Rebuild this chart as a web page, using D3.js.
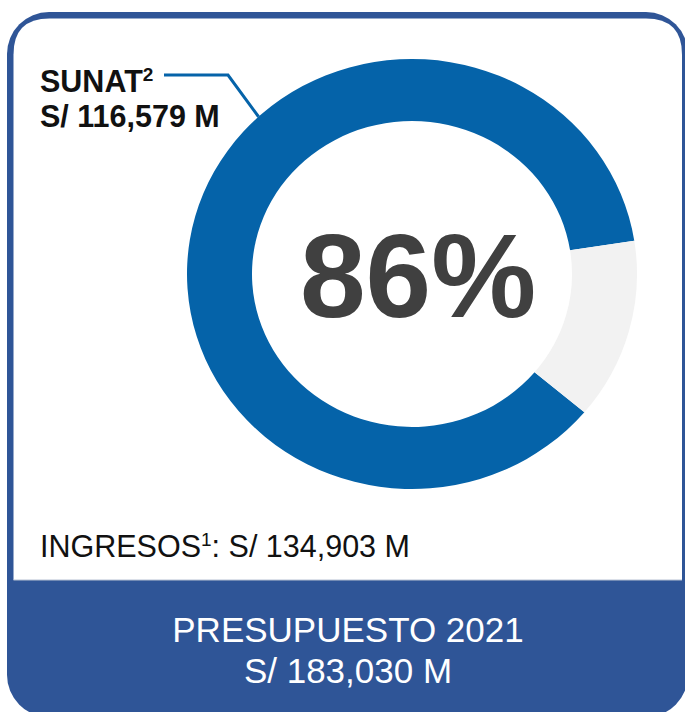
<!DOCTYPE html>
<html>
<head>
<meta charset="utf-8">
<script src="https://cdn.jsdelivr.net/npm/d3@7"></script>
<style>
  html, body { margin: 0; padding: 0; background: #fff; }
  svg { display: block; font-family: "Liberation Sans", Arial, sans-serif; }
</style>
</head>
<body>
<svg></svg>
<script>
const size = { w: 685, h: 712 };

// values
const sliceNames = ["SUNAT", "Resto"];
const sliceValues = [116579, 134903 - 116579];
const sliceColors = ["#0563a9", "#f2f2f2"];
const centerLabel = "86%";
const sunatLines = ["SUNAT", "S/ 116,579 M"];
const ingresosText = ["INGRESOS", "1", ": S/ 134,903 M"];
const footerLines = ["PRESUPUESTO 2021", "S/ 183,030 M"];

const frameColor = "#2f5597";
const svg = d3.select("svg").attr("width", size.w).attr("height", size.h);

// --------- FRAME ----------
// outer rounded box, filled with the frame colour (becomes border + bottom band)
svg.append("rect")
  .attr("x", 7).attr("y", 12)
  .attr("width", 681).attr("height", 705)
  .attr("rx", 42)
  .attr("fill", frameColor);

// white inner area, rounded only at the top
const ix0 = 13.5, iy0 = 18.5, ix1 = 682, iy1 = 580, r = 36;
svg.append("path")
  .attr("d", `M${ix0},${iy1} L${ix0},${iy0 + r} Q${ix0},${iy0} ${ix0 + r},${iy0}
              L${ix1 - r},${iy0} Q${ix1},${iy0} ${ix1},${iy0 + r} L${ix1},${iy1} Z`)
  .attr("fill", "#fff");

svg.append("line")
  .attr("x1", ix0).attr("x2", ix1)
  .attr("y1", iy1).attr("y2", iy1)
  .attr("stroke", "#b7c1d2").attr("stroke-width", 1);

// --------- DONUT ----------
const cx = 412, cy = 274;
const outerR = 225, innerR = 160;
const squash = 215 / 225; // the ring is slightly flattened vertically

const startDeg = 130;
const pie = d3.pie()
  .sort(null)
  .startAngle(startDeg * Math.PI / 180)
  .endAngle((startDeg + 360) * Math.PI / 180);

const arc = d3.arc().innerRadius(innerR).outerRadius(outerR);
const color = d3.scaleOrdinal().domain(sliceNames).range(sliceColors);

const donutG = svg.append("g")
  .attr("transform", `translate(${cx},${cy}) scale(1,${squash})`);

donutG.selectAll("path")
  .data(pie(sliceValues))
  .join("path")
  .attr("d", arc)
  .attr("fill", (d, i) => color(sliceNames[i]));

svg.append("text")
  .attr("x", 418).attr("y", 317)
  .attr("text-anchor", "middle")
  .attr("font-size", 118)
  .attr("font-weight", "bold")
  .attr("fill", "#404040")
  .text(centerLabel);

// --------- SUNAT LABEL + LEADER ----------
const sunat = svg.append("text")
  .attr("x", 40).attr("y", 92)
  .attr("font-size", 30.5)
  .attr("font-weight", "bold")
  .attr("fill", "#111");
sunat.append("tspan").text(sunatLines[0]);
sunat.append("tspan").attr("font-size", 19).attr("dy", -11).text("2");
svg.append("text")
  .attr("x", 40).attr("y", 127)
  .attr("font-size", 30.5)
  .attr("font-weight", "bold")
  .attr("fill", "#111")
  .text(sunatLines[1]);

// leader line ends on the outer edge of the blue ring
const leadAng = -43 * Math.PI / 180;
const tip = [cx + outerR * Math.sin(leadAng), cy - outerR * Math.cos(leadAng) * squash];
svg.append("path")
  .attr("d", d3.line()([[164, 75], [228, 75], tip]))
  .attr("fill", "none")
  .attr("stroke", sliceColors[0])
  .attr("stroke-width", 3);

// --------- INGRESOS ----------
const ing = svg.append("text")
  .attr("x", 40).attr("y", 557)
  .attr("font-size", 30.5)
  .attr("fill", "#111");
ing.append("tspan").text(ingresosText[0]);
ing.append("tspan").attr("font-size", 19).attr("dy", -11).text(ingresosText[1]);
ing.append("tspan").attr("dy", 11).text(ingresosText[2]);

// --------- FOOTER ----------
svg.selectAll("text.footer")
  .data(footerLines)
  .join("text")
  .classed("footer", true)
  .attr("x", 348)
  .attr("y", (d, i) => 642 + i * 41)
  .attr("text-anchor", "middle")
  .attr("font-size", 35)
  .attr("fill", "#fff")
  .text((d) => d);
</script>
</body>
</html>
